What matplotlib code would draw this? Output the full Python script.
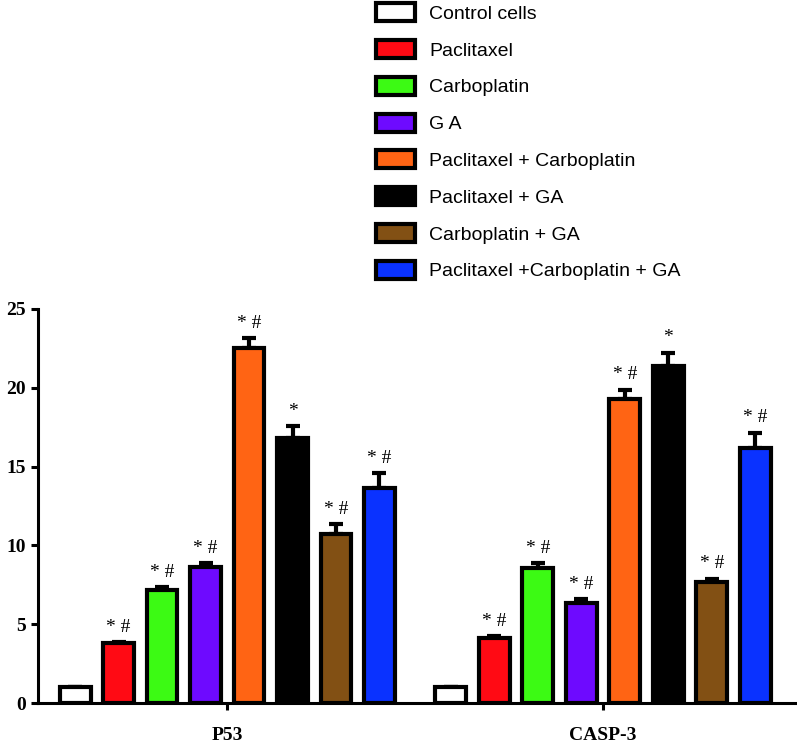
import numpy as np
import matplotlib
matplotlib.use("Agg")
import matplotlib.pyplot as plt
from matplotlib.patches import Patch

# === Data ===
genes = ["P53", "CASP-3"]
groups = ["Control cells", "Paclitaxel", "Carboplatin", "G A", "Paclitaxel + Carboplatin",
          "Paclitaxel + GA", "Carboplatin + GA", "Paclitaxel +Carboplatin + GA"]
colors = ["#FFFFFF", "#FF0A14", "#3CFA14", "#6E0AFF", "#FF6414", "#000000", "#825014", "#0A32FF"]
p53_mean = [1.0, 3.8, 7.15, 8.63, 22.55, 16.8, 10.74, 13.65]
p53_err = [0.0, 0.08, 0.2, 0.25, 0.6, 0.75, 0.63, 0.93]
casp3_mean = [1.0, 4.13, 8.59, 6.35, 19.3, 21.4, 7.68, 16.16]
casp3_err = [0.0, 0.11, 0.29, 0.25, 0.58, 0.83, 0.21, 1.0]
p53_sig = ["", "* #", "* #", "* #", "* #", "*", "* #", "* #"]
casp3_sig = ["", "* #", "* #", "* #", "* #", "*", "* #", "* #"]

means = np.array([p53_mean, casp3_mean])
errs = np.array([p53_err, casp3_err])
sigs = [p53_sig, casp3_sig]

fig = plt.figure(figsize=(7.97, 7.46), dpi=100)
ax = fig.add_axes([0.048, 0.0576, 0.952, 0.5282])

n = len(groups)
step = 0.1157
width = 0.082
x = np.arange(len(genes))
for i in range(n):
    pos = x + (i - (n - 1) / 2) * step
    ax.bar(pos, means[:, i], width=width, color=colors[i], edgecolor="black", linewidth=3, zorder=3)
    lower = np.zeros(len(genes))
    ax.errorbar(pos, means[:, i], yerr=[lower, errs[:, i]], fmt="none", ecolor="black",
                elinewidth=3, capsize=5, capthick=3, zorder=2)
    for g in range(len(genes)):
        s = sigs[g][i]
        if s:
            ax.text(pos[g], means[g, i] + errs[g, i] + 0.4, s, ha="center", va="bottom",
                    fontsize=14, family="Liberation Serif")

ax.set_xlim(-0.503, 1.516)
ax.set_ylim(0, 25)
ax.set_yticks([0, 5, 10, 15, 20, 25])
ax.set_xticks(x)
ax.set_xticklabels(genes)
for lab in ax.get_xticklabels() + ax.get_yticklabels():
    lab.set_family("Liberation Serif")
    lab.set_fontweight("bold")
    lab.set_fontsize(14)
ax.spines["top"].set_visible(False)
ax.spines["right"].set_visible(False)
ax.spines["left"].set_linewidth(2.2)
ax.spines["bottom"].set_linewidth(2.2)
ax.tick_params(axis="both", width=2.2, length=5, direction="out")
ax.tick_params(axis="y", pad=4)
ax.tick_params(axis="x", pad=12)

handles = [Patch(facecolor=c, edgecolor="black", linewidth=3, label=g) for c, g in zip(colors, groups)]
fig.legend(handles=handles, loc="upper left", bbox_to_anchor=(0.462, 1.006), frameon=False,
           prop={"family": "Liberation Sans", "size": 14}, handlelength=2.0, handleheight=1.05,
           labelspacing=0.88, handletextpad=0.72, borderaxespad=0)

fig.savefig("out.png", dpi=100, facecolor="white")
